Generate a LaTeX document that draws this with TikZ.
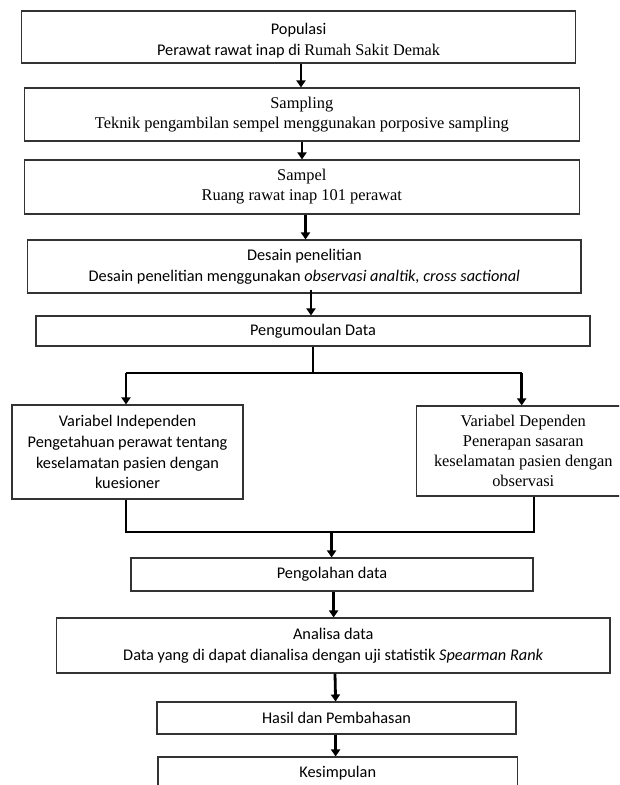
\documentclass[tikz,border=0pt]{standalone}
\usepackage{fontspec}
\setmainfont{Carlito}
\newfontfamily\tnr{Liberation Serif}
\usetikzlibrary{arrows.meta}
\tikzset{
  box/.style={draw=black!80, line width=1.1pt, inner sep=0pt, align=center,
    font=\fontsize{16.3}{20.8}\selectfont},
  tbox/.style={box, font=\tnr\fontsize{16.4}{20}\selectfont},
  txt/.style={inner sep=0pt, align=center, font=\fontsize{16.3}{21.5}\selectfont},
  arr/.style={line width=2.8pt, -{Triangle[width=9pt,length=7pt]}},
  conn/.style={line width=2pt},
}
\begin{document}
\begin{tikzpicture}[x=1pt,y=-1pt]
\useasboundingbox (0,0) rectangle (619,785);
\clip (0,0) rectangle (619,785);
\fill[white] (0,0) rectangle (619,785);

\node[box, minimum width=554pt, minimum height=52pt] (pop) at (298.6,37) {};
\node[txt] (poptext) at (298.6,40.5)
  {Populasi\\Perawat rawat inap di {\tnr Rumah Sakit Demak}};
\node[tbox, minimum width=554.5pt, minimum height=53pt] (samp) at (301.8,114.5)
  {Sampling\\Teknik pengambilan sempel menggunakan porposive sampling};
\node[tbox, minimum width=554.5pt, minimum height=54pt] (sampel) at (301.8,187)
  {Sampel\\Ruang rawat inap 101 perawat};
\node[box, minimum width=553.4pt, minimum height=53pt] (desain) at (304.3,266.5)
  {Desain penelitian\\Desain penelitian menggunakan \textit{observasi analtik, cross sactional}};
\node[box, minimum width=554pt, minimum height=30pt] (pengum) at (313,331)
  {Pengumoulan Data};
\node[box, minimum width=231pt, minimum height=94pt] (indep) at (127.5,452)
  {Variabel Independen\\Pengetahuan perawat tentang\\keselamatan pasien dengan\\kuesioner};
\node[tbox, minimum width=213.5pt, minimum height=90pt] (dep) at (523.25,451)
  {Variabel Dependen\\Penerapan sasaran\\keselamatan pasien dengan\\observasi};
\node[box, minimum width=402pt, minimum height=33pt] (olah) at (332,574.5)
  {Pengolahan data};
\node[box, minimum width=553.5pt, minimum height=55pt] (anal) at (333.25,645.5)
  {Analisa data\\Data yang di dapat dianalisa dengan uji statistik \textit{Spearman Rank}};
\node[box, minimum width=359pt, minimum height=32pt] (hasil) at (336.5,718)
  {Hasil dan Pembahasan};
\node[box, minimum width=359.5pt, minimum height=50pt] (kes) at (337.75,782) {};
\node[txt] (kestext) at (337.75,773) {Kesimpulan};

% straight arrows
\draw[arr] ([xshift=2.4pt]pop.south) -- ([xshift=-0.8pt]samp.north);
\draw[arr] ([xshift=0.2pt]samp.south) -- ([xshift=0.2pt]sampel.north);
\draw[arr] ([xshift=3.7pt]sampel.south) -- ([xshift=1.2pt]desain.north);
\draw[arr] ([xshift=6.7pt,yshift=4pt]desain.south) -- ([xshift=-2pt]pengum.north);

% split
\coordinate (sC) at (313,373);
\coordinate (sL) at (126,373);
\coordinate (sR) at (521.7,373);
\draw[conn] (pengum.south) -- (sC);
\draw[conn] (sL) -- (sR);
\draw[arr] (sL) -- ([xshift=-1.5pt]indep.north);
\draw[arr] (sR) -- ([xshift=-1.55pt]dep.north);

% merge
\coordinate (mL) at (125.5,532);
\coordinate (mR) at (534,532);
\coordinate (mA) at (331.6,532);
\draw[conn] ([xshift=-2pt]indep.south) -- (mL) -- (mR) -- ([xshift=10.75pt]dep.south);
\draw[arr] (mA) -- ([xshift=-0.4pt]olah.north);

\draw[arr] ([xshift=1.6pt]olah.south) -- ([xshift=0.35pt]anal.north);
\draw[arr] ([xshift=1.75pt]anal.south) -- ([xshift=-0.9pt]hasil.north);
\draw[arr] ([xshift=-0.9pt]hasil.south) -- ([xshift=-2.15pt]kes.north);
\end{tikzpicture}
\end{document}
